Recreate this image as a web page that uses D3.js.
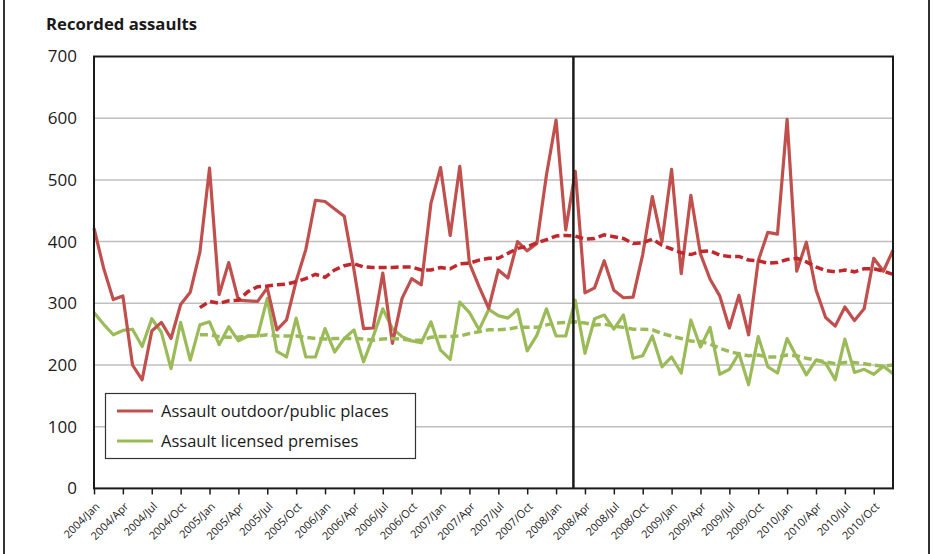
<!DOCTYPE html>
<html><head><meta charset="utf-8">
<script src="https://cdn.jsdelivr.net/npm/d3@7"></script>
<style>
body{margin:0;background:#fff}
svg{display:block}
text{font-family:"Open Sans",Lato,sans-serif;fill:#1a1a1a}
</style>
</head><body><svg id="c" width="934" height="554"></svg>
<script>
// ---- data ----
const years = [2004, 2005, 2006, 2007, 2008, 2009, 2010];
const monthNames = ["Jan","Feb","Mar","Apr","May","Jun","Jul","Aug","Sep","Oct","Nov","Dec"];
const categories = years.flatMap(y => monthNames.map(m => `${y}/${m}`));
const tickLabels = categories.filter((d, i) => i % 3 === 0);
const yTicks = [0, 100, 200, 300, 400, 500, 600, 700];

const outdoor = [
  422,357,306,312,200,176,255,269,243,298,318,383,
  519,314,366,305,304,303,325,257,273,336,387,467,
  465,453,441,355,259,260,349,235,308,340,330,462,
  520,410,522,365,327,292,354,341,400,385,397,508,
  597,419,514,317,325,369,321,309,310,379,473,400,
  517,348,475,380,339,312,260,313,249,369,415,412,
  598,352,399,322,277,263,294,272,291,373,352,386];
const licensed = [
  285,266,249,256,258,230,275,253,194,269,208,265,
  270,233,262,239,247,247,308,222,213,276,213,213,
  259,221,243,257,205,246,291,259,246,239,236,270,
  224,209,302,285,257,290,280,276,290,223,248,291,
  247,247,305,219,275,281,258,281,211,215,247,197,
  213,187,273,229,261,185,193,219,168,246,197,187,
  243,213,184,208,203,176,242,188,193,185,198,186];
// 12-month trend lines, starting 2004/Dec
const trendStart = "2004/Dec";
const outdoorTrend = [
  293,303,300,304,305,319,327,328,330,331,335,340,347,342,354,361,364,359,358,358,
  358,359,359,354,354,358,356,364,365,370,373,373,381,389,392,398,403,409,410,409,
  404,405,411,408,405,397,398,404,394,388,382,379,384,385,378,376,376,370,369,365,
  366,371,373,367,359,353,351,354,351,356,356,352,347];
const licensedTrend = [
  249,249,246,245,245,247,247,249,247,247,247,245,243,242,243,243,243,242,240,242,
  243,242,240,240,245,246,246,247,251,254,257,257,258,261,261,261,265,268,269,270,
  268,265,266,263,261,258,258,257,251,247,243,239,238,234,227,222,218,215,216,213,
  213,216,215,211,208,205,202,204,204,202,200,198,200];
// position of the vertical marker, in months after 2004/Jan
const markerMonth = 49.8;

const seriesNames = ["Assault outdoor/public places", "Assault licensed premises"];
const colors = {outdoor: "#C0504D", licensed: "#9BBB59", outdoorTrend: "#C0282D", licensedTrend: "#9BBB59"};

// ---- layout ----
const svg = d3.select("#c");
const L = 94, R = 893, T = 56.5, B = 488.4;
const x = d3.scaleLinear().domain([0, categories.length - 1]).range([L, R]);
const y = d3.scaleLinear().domain([0, 700]).range([B, T]);
const idx = c => categories.indexOf(c);

// outer frame lines
svg.append("line").attr("x1", 4).attr("x2", 4).attr("y1", 0).attr("y2", 554).attr("stroke", "#333").attr("stroke-width", 2);
svg.append("line").attr("x1", 929).attr("x2", 929).attr("y1", 0).attr("y2", 554).attr("stroke", "#333").attr("stroke-width", 2);

// title
svg.append("text").attr("x", 46).attr("y", 30).attr("font-size", 16.7).attr("font-weight", 700).text("Recorded assaults");

// gridlines
svg.append("g").selectAll("line").data(yTicks.filter(v => v > 0 && v < 700)).join("line")
  .attr("x1", L).attr("x2", R).attr("y1", d => y(d)).attr("y2", d => y(d))
  .attr("stroke", "#BFBFBF").attr("stroke-width", 1.5);

// y labels
svg.append("g").selectAll("text").data(yTicks).join("text")
  .attr("x", 77).attr("y", d => y(d)).attr("dy", "0.35em").attr("text-anchor", "end")
  .attr("font-size", 17).text(d => d);

// x axis ticks & labels
const xAxis = d3.axisBottom(x).tickValues(tickLabels.map(idx)).tickFormat(i => categories[i]).tickSize(6).tickSizeOuter(0);
const gx = svg.append("g").attr("transform", `translate(0,${B})`).call(xAxis);
gx.select(".domain").remove();
gx.selectAll(".tick line").attr("stroke", "#1a1a1a").attr("stroke-width", 1.5);
gx.selectAll(".tick text").attr("font-size", 11).attr("font-family", "'Open Sans', Lato, sans-serif")
  .attr("fill", "#1a1a1a").attr("text-anchor", "end")
  .attr("transform", "translate(3,16) rotate(-45)").attr("x", 0).attr("y", 0).attr("dy", "0.35em");

// series
const lineGen = offset => d3.line().x((d, i) => x(i + offset)).y(d => y(d));
const tOff = idx(trendStart);
svg.append("path").datum(licensed).attr("d", lineGen(0)).attr("fill", "none").attr("stroke", colors.licensed).attr("stroke-width", 3.2).attr("stroke-linejoin", "round");
svg.append("path").datum(outdoor).attr("d", lineGen(0)).attr("fill", "none").attr("stroke", colors.outdoor).attr("stroke-width", 3.2).attr("stroke-linejoin", "round");
svg.append("path").datum(outdoorTrend).attr("d", lineGen(tOff)).attr("fill", "none").attr("stroke", colors.outdoorTrend).attr("stroke-width", 3.5).attr("stroke-dasharray", "8,4");
svg.append("path").datum(licensedTrend).attr("d", lineGen(tOff)).attr("fill", "none").attr("stroke", colors.licensedTrend).attr("stroke-width", 3.5).attr("stroke-dasharray", "8,4");

// plot border
svg.append("rect").attr("x", L).attr("y", T).attr("width", R - L).attr("height", B - T)
  .attr("fill", "none").attr("stroke", "#1a1a1a").attr("stroke-width", 2);

// vertical marker
svg.append("line").attr("x1", x(markerMonth)).attr("x2", x(markerMonth)).attr("y1", T).attr("y2", B)
  .attr("stroke", "#1a1a1a").attr("stroke-width", 2.5);

// legend
const lg = svg.append("g");
lg.append("rect").attr("x", 105.5).attr("y", 393.5).attr("width", 310).attr("height", 65)
  .attr("fill", "#fff").attr("stroke", "#333").attr("stroke-width", 1.2);
[[seriesNames[0], colors.outdoor, 411], [seriesNames[1], colors.licensed, 441]].forEach(([name, col, yy]) => {
  lg.append("line").attr("x1", 117).attr("x2", 153).attr("y1", yy).attr("y2", yy).attr("stroke", col).attr("stroke-width", 3.2);
  lg.append("text").attr("x", 161).attr("y", yy).attr("dy", "0.35em").attr("font-size", 16.5).text(name);
});
</script>
</body></html>
